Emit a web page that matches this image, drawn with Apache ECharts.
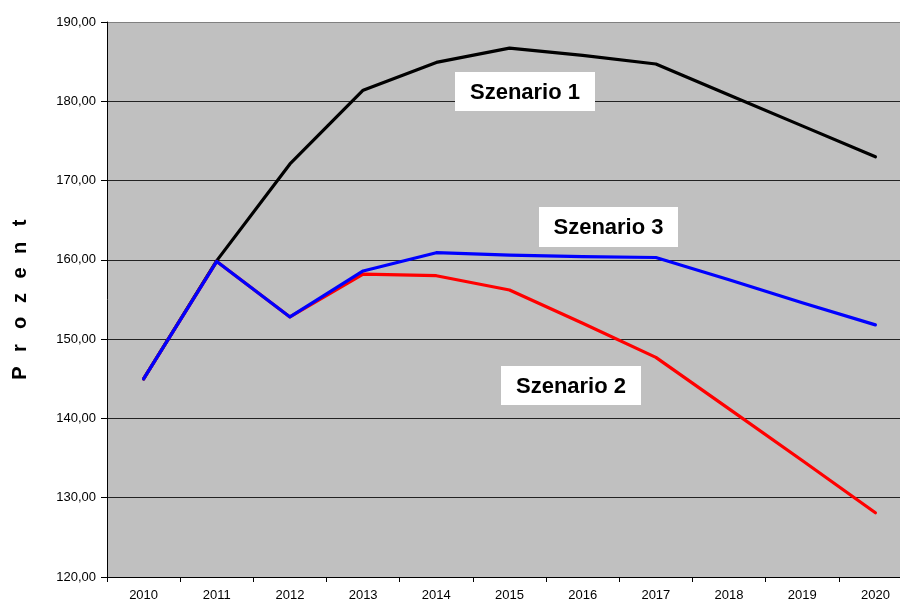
<!DOCTYPE html>
<html>
<head>
<meta charset="utf-8">
<script src="https://cdn.jsdelivr.net/npm/echarts@6/dist/echarts.min.js"></script>
<style>html,body{margin:0;padding:0;background:#fff}#c{width:900px;height:601px}</style>
</head>
<body>
<div id="c"></div>
<script>
var years = ['2010','2011','2012','2013','2014','2015','2016','2017','2018','2019','2020'];
var szenario1 = [145.0, 159.9, 172.1, 181.4, 184.9, 186.7, 185.8, 184.7, 180.8, 176.9, 173.0];
var szenario2 = [145.0, 159.8, 152.8, 158.2, 158.0, 156.2, 152.0, 147.7, 141.2, 134.7, 128.1];
var szenario3 = [145.0, 159.8, 152.8, 158.6, 160.9, 160.6, 160.4, 160.3, 157.5, 154.6, 151.8];
var yTicks = {min: 120, max: 190, interval: 10};
var axisTitle = 'Prozent';
var seriesNames = ['Szenario 1', 'Szenario 2', 'Szenario 3'];

var chart = echarts.init(document.getElementById('c'), null, {renderer: 'canvas'});
var font = 'Arial, "Liberation Sans", sans-serif';

var graphics = [];
// vertical letter-spaced axis title
var letters = axisTitle.split('');
for (var i = 0; i < letters.length; i++) {
  graphics.push({
    type: 'text', x: 20, y: 373 - i * 25, rotation: Math.PI / 2,
    style: {text: letters[i], font: 'bold 20px ' + font, fill: '#000', align: 'center', verticalAlign: 'middle'}
  });
}
function box(label, x, y, w, h) {
  graphics.push({type: 'rect', shape: {x: x, y: y, width: w, height: h}, style: {fill: '#fff'}, z: 100});
  graphics.push({type: 'text', x: x + w / 2, y: y + h / 2 + 1, z: 101,
    style: {text: label, font: 'bold 22px ' + font, fill: '#000', align: 'center', verticalAlign: 'middle'}});
}
box(seriesNames[0], 455, 72, 140, 39);
box(seriesNames[2], 539, 207, 139, 40);
box(seriesNames[1], 501, 366, 140, 39);

var colors = ['#000000', '#ff0000', '#0000ff'];
var data = [szenario1, szenario2, szenario3];
var series = data.map(function (d, k) {
  return {
    name: seriesNames[k], type: 'line', data: d, symbol: 'none', smooth: false,
    lineStyle: {color: colors[k], width: 3.2, cap: 'round', join: 'round'},
    z: 3 + k, animation: false
  };
});

chart.setOption({
  animation: false,
  backgroundColor: '#fff',
  grid: {left: 107, top: 22, width: 805, height: 555, containLabel: false, outerBoundsMode: 'none',
    show: true, backgroundColor: '#c0c0c0', borderWidth: 0},
  xAxis: {
    type: 'category', data: years, boundaryGap: true,
    axisLine: {lineStyle: {color: '#000', width: 1}},
    axisTick: {show: true, length: 5, lineStyle: {color: '#000'}},
    axisLabel: {color: '#000', fontSize: 13, fontFamily: font, margin: 12},
    splitLine: {show: false}
  },
  yAxis: {
    type: 'value', min: yTicks.min, max: yTicks.max, interval: yTicks.interval,
    axisLine: {show: true, lineStyle: {color: '#000', width: 1}},
    axisTick: {show: true, length: 6, lineStyle: {color: '#000'}},
    axisLabel: {color: '#000', fontSize: 13, fontFamily: font, margin: 11,
      formatter: function (v) { return v.toFixed(2).replace('.', ','); }},
    splitLine: {show: true, lineStyle: {color: ['#000', '#222', '#222', '#222', '#222', '#222', '#222', '#808080'], width: 1}}
  },
  graphic: graphics,
  series: series
});
</script>
</body>
</html>
